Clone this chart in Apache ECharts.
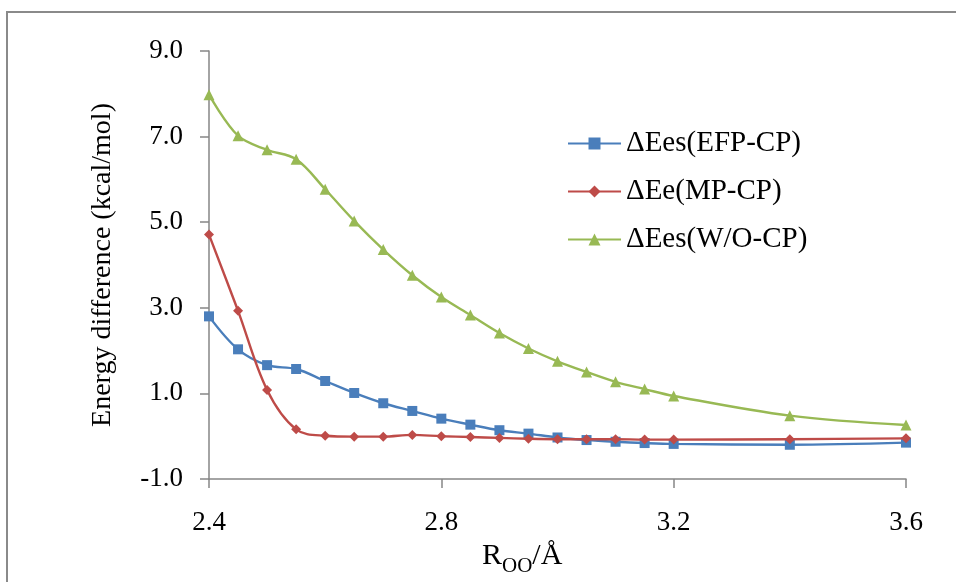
<!DOCTYPE html>
<html>
<head>
<meta charset="utf-8">
<title>Energy difference vs R_OO</title>
<script src="https://cdn.jsdelivr.net/npm/echarts@6/dist/echarts.min.js"></script>
<style>
  html, body { margin: 0; padding: 0; background: #ffffff; }
  #chart { width: 956px; height: 582px; }
</style>
</head>
<body>
<div id="chart"></div>
<script>
// O–O separation (Å)
const rOO = [2.40, 2.45, 2.50, 2.55, 2.60, 2.65, 2.70, 2.75, 2.80, 2.85,
             2.90, 2.95, 3.00, 3.05, 3.10, 3.15, 3.20, 3.40, 3.60];

// Energy differences (kcal/mol)
const dEesEFP = [2.80, 2.03, 1.66, 1.57, 1.29, 1.01, 0.77, 0.59, 0.41, 0.27,
                 0.14, 0.06, -0.03, -0.09, -0.13, -0.16, -0.18, -0.20, -0.15];
const dEeMP   = [4.71, 2.93, 1.08, 0.16, 0.01, -0.01, -0.01, 0.03, 0.00, -0.02,
                 -0.04, -0.06, -0.07, -0.07, -0.07, -0.08, -0.08, -0.07, -0.05];
const dEesWO  = [7.98, 7.02, 6.69, 6.47, 5.77, 5.03, 4.36, 3.76, 3.25, 2.83,
                 2.41, 2.05, 1.75, 1.50, 1.27, 1.10, 0.94, 0.48, 0.26];

const seriesNames = ['ΔEes(EFP-CP)', 'ΔEe(MP-CP)', 'ΔEes(W/O-CP)'];
const seriesColors = ['#4A7EBB', '#BE4B48', '#98B954'];

const xTicks = { min: 2.4, max: 3.6, step: 0.4 };
const yTicks = { min: -1, max: 9, step: 2 };

const FONT = '"Liberation Serif", "Times New Roman", serif';
const AXIS_GREY = '#868686';

const pairs = ys => rOO.map((x, i) => [x, ys[i]]);

const chart = echarts.init(document.getElementById('chart'), null, { renderer: 'canvas' });

function lineSeries(idx, data, symbol, size) {
  return {
    name: seriesNames[idx],
    type: 'line',
    data: pairs(data),
    smooth: 0.35,
    symbol: symbol,
    symbolSize: size,
    showAllSymbol: true,
    lineStyle: { color: seriesColors[idx], width: 2.4 },
    itemStyle: { color: seriesColors[idx] },
    emphasis: { disabled: true },
    z: 2 + idx
  };
}

chart.setOption({
  animation: false,
  backgroundColor: '#ffffff',
  textStyle: { fontFamily: FONT },
  grid: { left: 209, right: 50, top: 51, bottom: 103, containLabel: false },
  legend: {
    orient: 'vertical',
    left: 562,
    top: 124,
    itemWidth: 53,
    itemHeight: 15,
    itemGap: 19,
    selectedMode: false,
    textStyle: { fontFamily: FONT, fontSize: 29, color: '#000000', lineHeight: 29 },
    data: seriesNames
  },
  xAxis: {
    type: 'value',
    min: xTicks.min,
    max: xTicks.max,
    interval: xTicks.step,
    axisLine: { onZero: false, lineStyle: { color: AXIS_GREY, width: 1.5 } },
    axisTick: { show: true, inside: false, length: 9, lineStyle: { color: AXIS_GREY, width: 1.5 } },
    axisLabel: {
      margin: 30,
      fontFamily: FONT, fontSize: 27, color: '#000000',
      formatter: v => v.toFixed(1)
    },
    splitLine: { show: false }
  },
  yAxis: {
    type: 'value',
    min: yTicks.min,
    max: yTicks.max,
    interval: yTicks.step,
    name: 'Energy difference (kcal/mol)',
    nameLocation: 'middle',
    nameGap: 92,
    nameTextStyle: { fontFamily: FONT, fontSize: 28, color: '#000000' },
    axisLine: { show: true, onZero: false, lineStyle: { color: AXIS_GREY, width: 1.5 } },
    axisTick: { show: true, inside: false, length: 9, lineStyle: { color: AXIS_GREY, width: 1.5 } },
    axisLabel: {
      margin: 26,
      fontFamily: FONT, fontSize: 27, color: '#000000',
      formatter: v => v.toFixed(1)
    },
    splitLine: { show: false }
  },
  series: [
    lineSeries(0, dEesEFP, 'rect', 10),
    lineSeries(1, dEeMP, 'diamond', 10),
    lineSeries(2, dEesWO, 'triangle', 11)
  ],
  graphic: [
    // chart frame (left and top edges)
    { type: 'line', shape: { x1: 7, y1: 11, x2: 7, y2: 582 }, style: { stroke: '#8a8a8a', lineWidth: 2 }, silent: true },
    { type: 'line', shape: { x1: 6, y1: 12, x2: 956, y2: 12 }, style: { stroke: '#8a8a8a', lineWidth: 2 }, silent: true },
    // x-axis title with subscript
    {
      type: 'text',
      left: 482,
      top: 541,
      silent: true,
      style: {
        text: '{m|R}{s|OO}{m|/Å}',
        rich: {
          m: { fontFamily: FONT, fontSize: 30, fill: '#000000', verticalAlign: 'bottom' },
          s: { fontFamily: FONT, fontSize: 21, fill: '#000000', verticalAlign: 'bottom', padding: [0, 0, -6, 0] }
        }
      }
    }
  ]
});
</script>
</body>
</html>
